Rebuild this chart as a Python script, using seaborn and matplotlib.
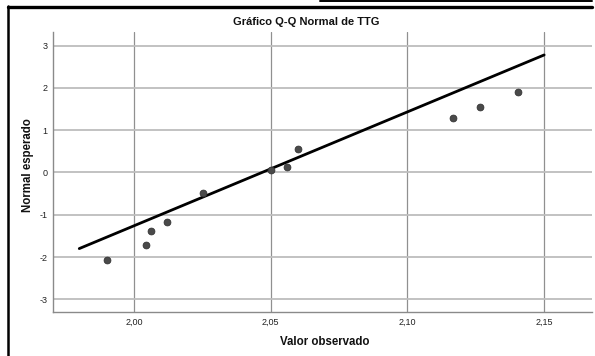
import matplotlib
matplotlib.use("Agg")
import matplotlib.pyplot as plt
from matplotlib.lines import Line2D
import seaborn as sns
import pandas as pd

# Observed TTG values and their expected normal scores
observed = [1.9903, 2.0043, 2.0062, 2.0122, 2.0251, 2.0500, 2.0561, 2.0601, 2.1167, 2.1265, 2.1406]
expected = [-2.06, -1.71, -1.39, -1.17, -0.48, 0.05, 0.12, 0.56, 1.30, 1.54, 1.90]

# Reference line endpoints
ref_x = [1.98, 2.15]
ref_y = [-1.80, 2.78]

x_ticks = [2.00, 2.05, 2.10, 2.15]
x_tick_labels = ["2,00", "2,05", "2,10", "2,15"]
y_ticks = [-3, -2, -1, 0, 1, 2, 3]

title = "Gráfico Q-Q Normal de TTG"
x_label = "Valor observado"
y_label = "Normal esperado"

sns.set_style("white")
plt.rcParams["font.family"] = ["Liberation Sans", "DejaVu Sans"]

fig = plt.figure(figsize=(5.95, 3.56), dpi=100)
ax = fig.add_axes([53 / 595, 1 - 312 / 356, (592 - 53) / 595, (312 - 31.7) / 356])

points = pd.DataFrame({"obs": observed, "exp": expected})
line = pd.DataFrame({"x": ref_x, "y": ref_y})

# Grid: darker vertical lines, lighter horizontal lines
for xv in x_ticks:
    ax.axvline(xv, color="#909090", lw=0.9, zorder=0)
for yv in y_ticks:
    ax.axhline(yv, color="#bdbdbd", lw=1.3, zorder=0)

sns.lineplot(data=line, x="x", y="y", ax=ax, color="black", lw=2.0, zorder=2)
sns.scatterplot(data=points, x="obs", y="exp", ax=ax, color="#4a4a4a",
                edgecolor="#333333", linewidth=0.6, s=24, zorder=3)

ax.set_xlim(1.9704, 2.1675)
ax.set_ylim(-3.3, 3.33)
ax.set_xticks(x_ticks)
ax.set_xticklabels(x_tick_labels)
ax.set_yticks(y_ticks)
ax.set_yticklabels([str(v) for v in y_ticks])
ax.tick_params(axis="both", length=0, labelsize=6.5, colors="#222222", pad=4)
ax.set_xlabel("")
ax.set_ylabel("")

for side in ("top", "right"):
    ax.spines[side].set_visible(False)
for side in ("left", "bottom"):
    ax.spines[side].set_color("#8a8a8a")
    ax.spines[side].set_linewidth(1.0)

fig.text(306 / 595, 1 - 22 / 356, title, ha="center", va="center",
         fontsize=8, fontweight="bold", color="#111111")
fig.text(325 / 595, 1 - 342 / 356, x_label, ha="center", va="center",
         fontsize=8.3, fontweight="bold", color="#111111")
fig.text(28 / 595, 1 - 165 / 356, y_label, ha="center", va="center",
         rotation=90, fontsize=8.3, fontweight="bold", color="#111111")

# Outer frame lines
W, H = 595, 356
fig.add_artist(Line2D([8 / W, 8 / W], [0, 1 - 6 / H], color="black", lw=1.8,
                      transform=fig.transFigure))
fig.add_artist(Line2D([8 / W, 592 / W], [1 - 6.5 / H, 1 - 6.5 / H], color="black", lw=2.4,
                      transform=fig.transFigure))
fig.add_artist(Line2D([320 / W, 592 / W], [1 - 0.6 / H, 1 - 0.6 / H], color="black", lw=1.4,
                      transform=fig.transFigure))

fig.savefig("out.png", dpi=100)
